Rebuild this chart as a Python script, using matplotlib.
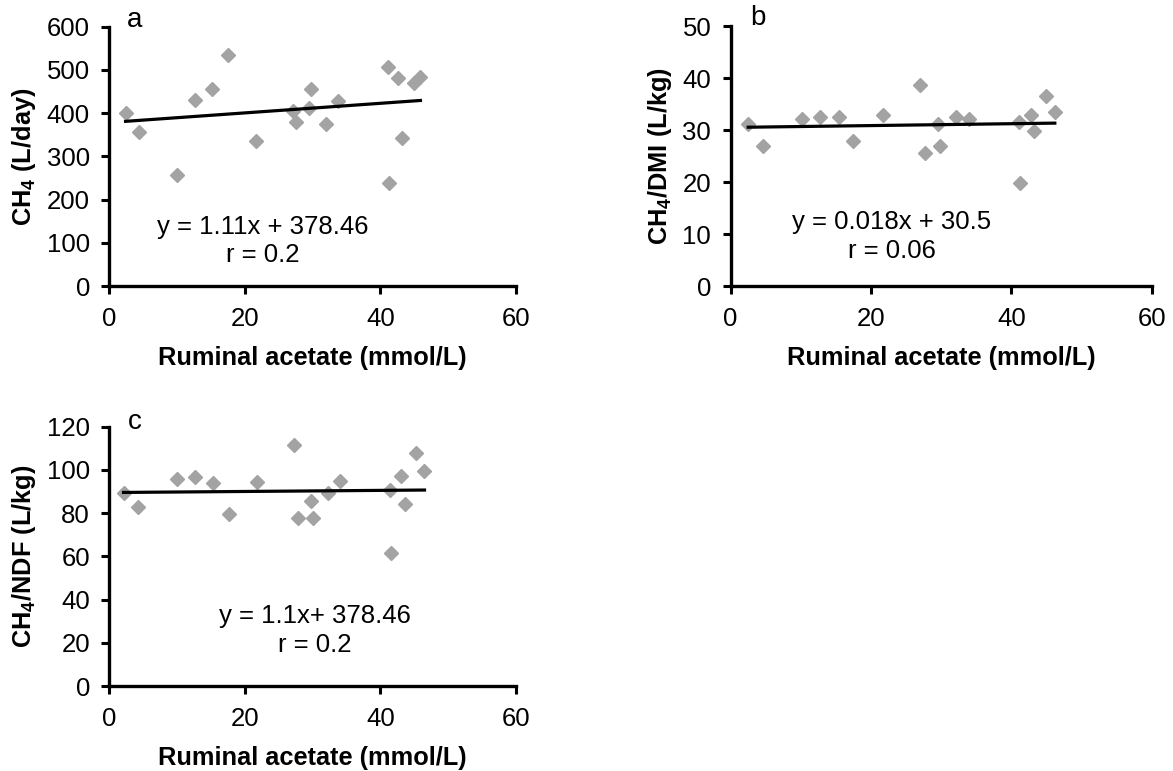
#!/usr/bin/env python3

# Methane vs ruminal acetate, three panels (a, b, c) with Excel-style trend lines.

import matplotlib
matplotlib.use('Agg')
import matplotlib.pyplot
import numpy

FONT_FAMILY = 'Liberation Sans'

matplotlib.pyplot.rcParams['font.family'] = [FONT_FAMILY, 'DejaVu Sans']
matplotlib.pyplot.rcParams['mathtext.fontset'] = 'custom'
matplotlib.pyplot.rcParams['mathtext.rm'] = FONT_FAMILY
matplotlib.pyplot.rcParams['mathtext.bf'] = FONT_FAMILY + ':bold'
matplotlib.pyplot.rcParams['mathtext.it'] = FONT_FAMILY + ':italic'

# Ruminal acetate (mmol/L), one array per panel.
acetateA = [2.4, 4.4, 10.0, 12.7, 15.2, 17.5, 21.7, 27.1, 27.5, 29.8, 29.4, 31.9, 33.7, 41.1, 41.2, 42.6, 43.2, 44.9, 45.9]
methaneDay = [400, 357, 258, 431, 455, 534, 336, 404, 379, 456, 411, 375, 429, 508, 238, 482, 342, 469, 483]

acetateB = [2.5, 4.6, 10.1, 12.8, 15.4, 17.4, 21.7, 27.0, 27.7, 29.6, 29.8, 32.1, 33.9, 41.1, 41.2, 42.8, 43.2, 44.9, 46.2]
methaneDmi = [31.1, 26.9, 32.2, 32.5, 32.5, 27.8, 32.8, 38.7, 25.5, 31.1, 26.9, 32.6, 32.2, 31.5, 19.9, 32.9, 29.9, 36.6, 33.5]

acetateC = [2.1, 4.2, 10.0, 12.7, 15.3, 17.6, 21.8, 27.3, 27.8, 29.8, 30.0, 32.3, 34.0, 41.4, 41.6, 43.1, 43.6, 45.3, 46.5]
methaneNdf = [89.3, 82.9, 95.8, 96.6, 93.9, 79.8, 94.5, 111.7, 77.6, 85.7, 77.6, 89.3, 95.0, 90.8, 61.5, 97.0, 84.1, 107.9, 99.4]

# Trend line (slope, intercept) per panel.
trendA = (1.11, 378.46)
trendB = (0.018, 30.5)
trendC = (0.025, 89.55)

equationA = 'y = 1.11x + 378.46\nr = 0.2'
equationB = 'y = 0.018x + 30.5\nr = 0.06'
equationC = 'y = 1.1x+ 378.46\nr = 0.2'

X_LABEL = 'Ruminal acetate (mmol/L)'
X_TICKS = [0, 20, 40, 60]

MARKER_COLOR = '#a3a3a3'
TICK_FONT_SIZE = 18.5
LABEL_FONT_SIZE = 18.3

def drawPanel(figure, rect, xs, ys, trend, equation, equationPos, letter, letterPos, yLabel, yTicks):
    axis = figure.add_axes(rect)

    axis.plot(xs, ys, linestyle = 'none', marker = 'D', markersize = 7.2,
        markerfacecolor = MARKER_COLOR, markeredgecolor = MARKER_COLOR, zorder = 3)

    slope, intercept = trend
    lineX = numpy.array([min(xs), max(xs)])
    axis.plot(lineX, slope * lineX + intercept, color = 'black', linewidth = 2.3, zorder = 4)

    axis.set_xlim(0, 60)
    axis.set_ylim(yTicks[0], yTicks[-1])
    axis.set_xticks(X_TICKS)
    axis.set_yticks(yTicks)

    for side in ['top', 'right']:
        axis.spines[side].set_visible(False)
    for side in ['left', 'bottom']:
        axis.spines[side].set_linewidth(2.4)
        axis.spines[side].set_capstyle('projecting')

    axis.tick_params(axis = 'both', direction = 'out', length = 6, width = 2.2, labelsize = TICK_FONT_SIZE)
    axis.tick_params(axis = 'x', pad = 9)
    axis.tick_params(axis = 'y', pad = 8)

    axis.set_xlabel(X_LABEL, fontsize = LABEL_FONT_SIZE, fontweight = 'bold', labelpad = 11)
    axis.set_ylabel(yLabel, fontsize = LABEL_FONT_SIZE, fontweight = 'bold', labelpad = 6)

    axis.text(equationPos[0], equationPos[1], equation, transform = axis.transAxes,
        ha = 'center', va = 'center', multialignment = 'center', fontsize = TICK_FONT_SIZE, linespacing = 1.25)
    axis.text(letterPos[0], letterPos[1], letter, transform = axis.transAxes,
        ha = 'center', va = 'center', fontsize = 20)

    axis.patch.set_visible(False)
    return axis

def main():
    figure = matplotlib.pyplot.figure(figsize = (11.73, 7.71), dpi = 100)

    drawPanel(figure, [0.0932, 0.629, 0.3467, 0.3363], acetateA, methaneDay, trendA,
        equationA, (0.378, 0.174), 'a', (0.063, 1.026),
        r'CH$_\mathbf{4}$ (L/day)', [0, 100, 200, 300, 400, 500, 600])

    drawPanel(figure, [0.6229, 0.629, 0.3589, 0.3372], acetateB, methaneDmi, trendB,
        equationB, (0.383, 0.19), 'b', (0.065, 1.03),
        r'CH$_\mathbf{4}$/DMI (L/kg)', [0, 10, 20, 30, 40, 50])

    drawPanel(figure, [0.0932, 0.1102, 0.3467, 0.3363], acetateC, methaneNdf, trendC,
        equationC, (0.506, 0.213), 'c', (0.063, 1.019),
        r'CH$_\mathbf{4}$/NDF (L/kg)', [0, 20, 40, 60, 80, 100, 120])

    figure.savefig('out.png', dpi = 100)

if (__name__ == '__main__'):
    main()
